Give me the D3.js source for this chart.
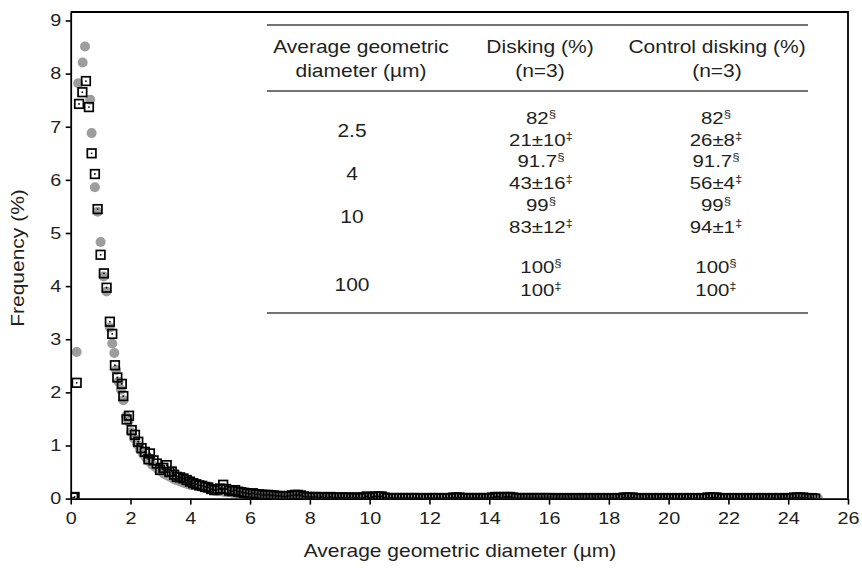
<!DOCTYPE html>
<html>
<head>
<meta charset="utf-8">
<script src="https://cdn.jsdelivr.net/npm/d3@7"></script>
<style>
    body { margin: 0; background: #fff; }
    text { font-family: "Liberation Sans", Arial, Helvetica, sans-serif; fill: #231f20; }
</style>
</head>
<body>
<svg id="chart" width="862" height="568"></svg>
<script>
// head of the distribution, read point by point: [diameter, frequency]
let squareHead = [
    [0.08, 0.02], [0.13, 0.03], [0.20, 2.18], [0.28, 7.43], [0.39, 7.65], [0.51, 7.86], [0.61, 7.37],
    [0.70, 6.50], [0.81, 6.11], [0.90, 5.45], [1.00, 4.59], [1.11, 4.24], [1.20, 3.97], [1.31, 3.33],
    [1.39, 3.10], [1.48, 2.51], [1.56, 2.28], [1.71, 2.16], [1.76, 1.93], [1.87, 1.49], [1.95, 1.56],
    [2.04, 1.29], [2.15, 1.20], [2.26, 1.07], [2.37, 0.95], [2.48, 0.88], [2.60, 0.74], [2.65, 0.85],
    [2.77, 0.72], [2.88, 0.66], [2.99, 0.54], [3.10, 0.58], [3.21, 0.63], [3.30, 0.50], [3.38, 0.51],
    [3.46, 0.45], [3.55, 0.41], [3.66, 0.40], [3.77, 0.38], [3.88, 0.35], [3.99, 0.32], [4.10, 0.29]
];
let circleHead = [
    [0.20, 2.76], [0.25, 7.82], [0.40, 8.21], [0.48, 8.51], [0.65, 7.51], [0.70, 6.88], [0.81, 5.86],
    [0.90, 5.40], [1.00, 4.83], [1.10, 4.18], [1.20, 3.90], [1.31, 3.22], [1.39, 2.92], [1.46, 2.74],
    [1.52, 2.42], [1.60, 2.20], [1.68, 2.05], [1.76, 1.85], [1.85, 1.55], [1.93, 1.45], [2.02, 1.25],
    [2.12, 1.13], [2.22, 1.02], [2.32, 0.92], [2.42, 0.84], [2.52, 0.77], [2.62, 0.70], [2.72, 0.64],
    [2.82, 0.60], [2.92, 0.55], [3.02, 0.51], [3.12, 0.47], [3.22, 0.44], [3.32, 0.41], [3.42, 0.38],
    [3.52, 0.35], [3.62, 0.33], [3.72, 0.31], [3.82, 0.29], [3.92, 0.27], [4.02, 0.25]
];

// tail: one frequency per 0.1 um bin, starting at 4.2 um
let tailStart = 4.2;
let tailStep = 0.1;
let squareTail = [
    0.27, 0.25, 0.24, 0.22, 0.21, 0.18, 0.16, 0.17, 0.19, 0.26,
    0.18, 0.15, 0.14, 0.16, 0.13, 0.12, 0.11, 0.10, 0.09, 0.10,
    0.08, 0.08, 0.07, 0.07, 0.07, 0.06, 0.06, 0.05, 0.05, 0.04,
    0.04, 0.05, 0.06, 0.07, 0.07, 0.06, 0.04, 0.03, 0.03, 0.03,
    0.03, 0.02, 0.03, 0.02, 0.02, 0.03, 0.02, 0.02, 0.02, 0.02,
    0.02, 0.02, 0.01, 0.02, 0.02, 0.01, 0.02, 0.04, 0.02, 0.03,
    0.04, 0.04, 0.04, 0.02, 0.01, 0.01, 0.01, 0.01, 0.01, 0.01,
    0.01, 0.01, 0.01, 0.01, 0.01, 0.01, 0.00, 0.01, 0.01, 0.01,
    0.01, 0.01, 0.00, 0.01, 0.01, 0.01, 0.02, 0.02, 0.02, 0.01,
    0.01, 0.01, 0.01, 0.01, 0.01, 0.01, 0.01, 0.01, 0.01, 0.02,
    0.03, 0.03, 0.02, 0.03, 0.03, 0.03, 0.02, 0.01, 0.01, 0.01,
    0.01, 0.01, 0.01, 0.01, 0.01, 0.01, 0.01, 0.01, 0.01, 0.01,
    0.00, 0.01, 0.00, 0.01, 0.00, 0.01, 0.00, 0.01, 0.00, 0.01,
    0.00, 0.01, 0.00, 0.01, 0.00, 0.01, 0.00, 0.01, 0.00, 0.01,
    0.00, 0.01, 0.00, 0.02, 0.02, 0.02, 0.02, 0.01, 0.00, 0.01,
    0.00, 0.01, 0.00, 0.01, 0.00, 0.01, 0.00, 0.01, 0.00, 0.01,
    0.00, 0.01, 0.00, 0.01, 0.00, 0.01, 0.00, 0.01, 0.00, 0.01,
    0.00, 0.02, 0.02, 0.02, 0.02, 0.01, 0.00, 0.01, 0.00, 0.01,
    0.00, 0.01, 0.00, 0.01, 0.00, 0.01, 0.00, 0.01, 0.00, 0.01,
    0.00, 0.01, 0.00, 0.01, 0.00, 0.01, 0.00, 0.01, 0.00, 0.01,
    0.02, 0.02, 0.02, 0.02, 0.01, 0.00, 0.01, 0.00
];
let circleTail = [
    0.24, 0.23, 0.21, 0.20, 0.18, 0.17, 0.15, 0.14, 0.14, 0.13,
    0.12, 0.12, 0.11, 0.10, 0.10, 0.09, 0.08, 0.08, 0.07, 0.07,
    0.06, 0.06, 0.05, 0.05, 0.05, 0.04, 0.04, 0.04, 0.03, 0.03,
    0.03, 0.03, 0.04, 0.04, 0.04, 0.03, 0.03, 0.02, 0.02, 0.02,
    0.02, 0.01, 0.02, 0.01, 0.01, 0.02, 0.01, 0.01, 0.01, 0.01,
    0.01, 0.01, 0.00, 0.01, 0.01, 0.00, 0.01, 0.03, 0.01, 0.02,
    0.03, 0.03, 0.02, 0.01, 0.00, 0.00, 0.00, 0.00, 0.00, 0.00,
    0.00, 0.00, 0.00, 0.00, 0.00, 0.00, 0.00, 0.00, 0.00, 0.00,
    0.00, 0.00, 0.00, 0.00, 0.00, 0.00, 0.01, 0.01, 0.01, 0.00,
    0.00, 0.00, 0.00, 0.00, 0.00, 0.00, 0.00, 0.00, 0.00, 0.01,
    0.02, 0.02, 0.01, 0.02, 0.02, 0.02, 0.01, 0.00, 0.00, 0.00,
    0.00, 0.00, 0.00, 0.00, 0.00, 0.00, 0.00, 0.00, 0.00, 0.00,
    0.00, 0.00, 0.00, 0.00, 0.00, 0.00, 0.00, 0.00, 0.00, 0.00,
    0.00, 0.00, 0.00, 0.00, 0.00, 0.00, 0.00, 0.00, 0.00, 0.00,
    0.00, 0.00, 0.00, 0.01, 0.01, 0.01, 0.01, 0.00, 0.00, 0.00,
    0.00, 0.00, 0.00, 0.00, 0.00, 0.00, 0.00, 0.00, 0.00, 0.00,
    0.00, 0.00, 0.00, 0.00, 0.00, 0.00, 0.00, 0.00, 0.00, 0.00,
    0.00, 0.01, 0.01, 0.01, 0.01, 0.00, 0.00, 0.00, 0.00, 0.00,
    0.00, 0.00, 0.00, 0.00, 0.00, 0.00, 0.00, 0.00, 0.00, 0.00,
    0.00, 0.00, 0.00, 0.00, 0.00, 0.00, 0.00, 0.00, 0.00, 0.00,
    0.01, 0.01, 0.01, 0.01, 0.00, 0.00, 0.00, 0.00, 0.00
];

let xTicks = [0, 2, 4, 6, 8, 10, 12, 14, 16, 18, 20, 22, 24, 26];
let yTicks = [0, 1, 2, 3, 4, 5, 6, 7, 8, 9];

// inset table
let tableHeaders = [
    ['Average geometric', 'diameter (\u00b5m)'],
    ['Disking (%)', '(n=3)'],
    ['Control disking (%)', '(n=3)']
];
let diameters = ['2.5', '4', '10', '100'];
let diskingValues = [
    [['82', '\u00a7'], ['21\u00b110', '\u2021']],
    [['91.7', '\u00a7'], ['43\u00b116', '\u2021']],
    [['99', '\u00a7'], ['83\u00b112', '\u2021']],
    [['100', '\u00a7'], ['100', '\u2021']]
];
let controlValues = [
    [['82', '\u00a7'], ['26\u00b18', '\u2021']],
    [['91.7', '\u00a7'], ['56\u00b14', '\u2021']],
    [['99', '\u00a7'], ['94\u00b11', '\u2021']],
    [['100', '\u00a7'], ['100', '\u2021']]
];

function withTail(head, tail) {
    let tailPoints = tail.map((v, i) => [+(tailStart + i * tailStep).toFixed(2), v]);
    return head.concat(tailPoints);
}

(function drawChart() {
    let svg = d3.select('#chart');
    let plot = {left: 70.7, right: 848, top: 12, bottom: 498.6};
    let sx = 1.2; // the source type is set wide

    let x = d3.scaleLinear().domain([0, 26]).range([plot.left, plot.right]);
    let y = d3.scaleLinear().domain([0, 9.16]).range([plot.bottom, plot.top]);

    svg.append('defs').append('clipPath').attr('id', 'plotClip')
        .append('rect')
        .attr('x', plot.left).attr('y', plot.top)
        .attr('width', plot.right - plot.left).attr('height', plot.bottom - plot.top);

    function stretchedText(parent, px, py, str, size, anchor) {
        return parent.append('text')
            .attr('transform', `translate(${px},${py}) scale(${sx},1)`)
            .attr('text-anchor', anchor || 'middle')
            .style('font-size', size + 'px')
            .text(str);
    }

    // frame top and right
    svg.append('path')
        .attr('d', `M${plot.left},${plot.top}H${plot.right}V${plot.bottom}`)
        .attr('fill', 'none').attr('stroke', '#000').attr('stroke-width', 1.8);

    let marks = svg.append('g').attr('clip-path', 'url(#plotClip)');

    let circles = withTail(circleHead, circleTail);
    let squares = withTail(squareHead, squareTail);

    marks.append('g').selectAll('circle')
        .data(circles)
        .enter().append('circle')
        .attr('cx', d => x(d[0]))
        .attr('cy', d => y(d[1]))
        .attr('r', 5)
        .attr('fill', '#9d9d9d');

    let sq = 8.6;
    let sqGroup = marks.append('g');
    sqGroup.selectAll('rect')
        .data(squares)
        .enter().append('rect')
        .attr('x', d => x(d[0]) - sq / 2)
        .attr('y', d => y(d[1]) - sq / 2)
        .attr('width', sq).attr('height', sq)
        .attr('fill', 'none')
        .attr('stroke', '#000')
        .attr('stroke-width', 1.7);
    sqGroup.selectAll('circle')
        .data(squares)
        .enter().append('circle')
        .attr('cx', d => x(d[0]))
        .attr('cy', d => y(d[1]))
        .attr('r', 0.9)
        .attr('fill', '#000');

    // axes
    let xAxis = svg.append('g')
        .attr('transform', `translate(0,${plot.bottom})`)
        .call(d3.axisBottom(x).tickValues(xTicks).tickSize(6).tickSizeOuter(0).tickPadding(8));
    let yAxis = svg.append('g')
        .attr('transform', `translate(${plot.left},0)`)
        .call(d3.axisLeft(y).tickValues(yTicks).tickSize(5).tickSizeOuter(0).tickPadding(5));

    [xAxis, yAxis].forEach(axis => {
        axis.select('.domain').attr('stroke', '#000').attr('stroke-width', 1.8);
        axis.selectAll('.tick line').attr('stroke', '#000').attr('stroke-width', 1.6);
        axis.selectAll('.tick text')
            .attr('font-family', null)
            .attr('fill', null)
            .style('font-size', '16.5px')
            .attr('transform', `scale(${sx},1)`);
    });
    yAxis.selectAll('.tick text').attr('x', -9.5 / sx);

    // axis titles
    stretchedText(svg, 460, 557, 'Average geometric diameter (\u00b5m)', 17.5);
    svg.append('text')
        .attr('transform', `translate(24,258) rotate(-90) scale(${sx},1)`)
        .attr('text-anchor', 'middle')
        .style('font-size', '17.5px')
        .text('Frequency (%)');

    // inset table
    let table = svg.append('g');
    let tLeft = 267, tRight = 808;
    [25, 91, 313].forEach(ly => {
        table.append('line')
            .attr('x1', tLeft).attr('x2', tRight)
            .attr('y1', ly).attr('y2', ly)
            .attr('stroke', '#444').attr('stroke-width', 1.4);
    });

    let colX = [361, 540, 717];
    tableHeaders.forEach((lines, c) => {
        stretchedText(table, colX[c], 53, lines[0], 17.5);
        stretchedText(table, colX[c], 77, lines[1], 17.5);
    });

    let diameterY = [137, 180, 223, 291];
    diameters.forEach((d, r) => stretchedText(table, 352, diameterY[r], d, 17.5));

    let valueY = [[124, 146], [167, 189], [211, 233], [273, 296]];
    function valueCell(px, py, cell) {
        let t = stretchedText(table, px, py, '', 17);
        t.append('tspan').text(cell[0]);
        t.append('tspan').attr('dy', -6.5).style('font-size', '11px').text(cell[1]);
    }
    diskingValues.forEach((pair, r) => {
        pair.forEach((cell, k) => valueCell(541, valueY[r][k], cell));
    });
    controlValues.forEach((pair, r) => {
        pair.forEach((cell, k) => valueCell(716, valueY[r][k], cell));
    });
}());
</script>
</body>
</html>
